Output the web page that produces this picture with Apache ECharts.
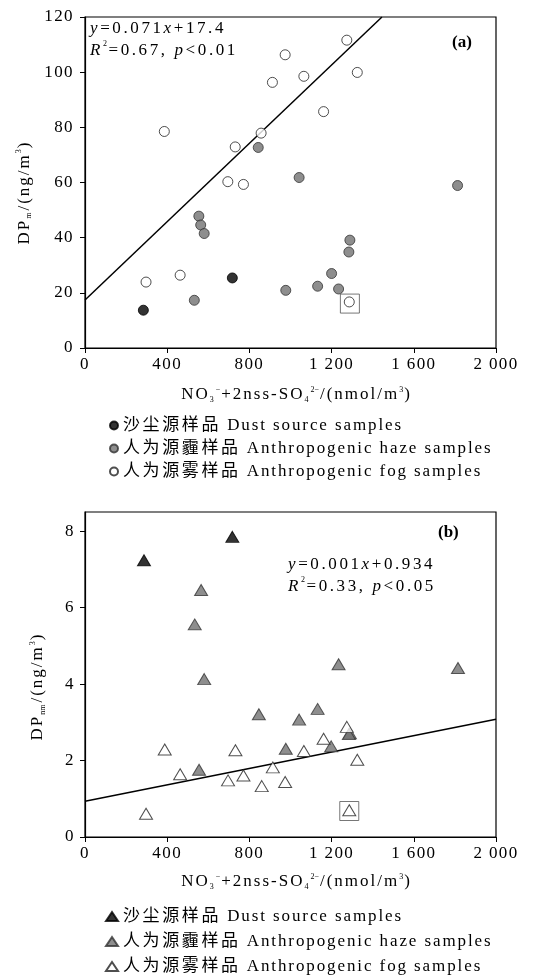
<!DOCTYPE html>
<html>
<head>
<meta charset="utf-8">
<script src="https://cdn.jsdelivr.net/npm/echarts@6/dist/echarts.min.js"></script>
<style>
  html, body { margin: 0; padding: 0; background: #fff; }
  #chart { width: 537px; height: 977px; }
</style>
</head>
<body>
<div id="chart"></div>
<script>
// panel (a): DPm vs NO3- + 2nss-SO4 2-
const dustA = [[284, 13.7], [717, 25.4]];
const hazeA = [[532, 17.3], [554, 47.8], [563, 44.6], [580, 41.5], [843, 72.7], [977, 20.9], [1042, 61.8],
  [1132, 22.4], [1200, 27.0], [1234, 21.4], [1289, 39.1], [1284, 34.8], [1813, 58.9]];
const fogA = [[297, 23.9], [386, 78.5], [463, 26.4], [695, 60.3], [731, 72.9], [771, 59.3], [857, 77.9],
  [912, 96.3], [974, 106.3], [1065, 98.5], [1161, 85.7], [1274, 111.6], [1325, 99.9], [1286, 16.7]];
const boxA = [[1289, 16.1]];
const fitA = [[0, 17.4], [1445, 120]];

// panel (b): DPnm
const dustB = [[287, 7.24], [717, 7.85]];
const hazeB = [[534, 5.56], [565, 6.46], [580, 4.13], [555, 1.76], [846, 3.21], [977, 2.31], [1042, 3.07],
  [1132, 3.35], [1198, 2.37], [1234, 4.52], [1289, 2.71], [1284, 2.69], [1815, 4.42]];
const fogB = [[297, 0.61], [388, 2.29], [463, 1.64], [696, 1.48], [732, 2.27], [771, 1.61], [860, 1.33],
  [914, 1.82], [974, 1.44], [1065, 2.25], [1161, 2.57], [1274, 2.88], [1325, 2.02], [1286, 0.70]];
const boxB = [[1286, 0.68]];
const fitB = [[0, 0.934], [2000, 3.08]];

const yTicksB = [0, 2, 4, 6, 8];
const legendLabels = {
  aDust: '沙尘源样品 Dust source samples',
  aHaze: '人为源霾样品 Anthropogenic haze samples',
  aFog: '人为源雾样品 Anthropogenic fog samples',
  bDust: '沙尘源样品 Dust source samples',
  bHaze: '人为源霾样品 Anthropogenic haze samples',
  bFog: '人为源雾样品 Anthropogenic fog samples'
};

const serif = "'Liberation Serif', 'Times New Roman', 'Noto Sans CJK SC', serif";
const fs = 17;

// the source figure is set with wide tracking, so every glyph gets its own token
const tr = (s, st) => Array.from(s).map(c => `{${st}|${c}}`).join('');
const trMixed = s => Array.from(s).map(c => `{${/[\u4e00-\u9fff]/.test(c) ? 'c' : 't'}|${c}}`).join('');

const nameRich = {
  n: { fontFamily: serif, fontSize: fs, color: '#000', lineHeight: 18, padding: [0, 2, 0, 0] },
  sub: { fontFamily: serif, fontSize: 8, color: '#000', verticalAlign: 'bottom', lineHeight: 8, padding: [0, 2, 0, 0] },
  sup: { fontFamily: serif, fontSize: 8, color: '#000', verticalAlign: 'top', lineHeight: 8, padding: [0, 1, 0, 0] }
};
const eqRich = {
  n: { fontFamily: serif, fontSize: fs, color: '#000', lineHeight: 22, padding: [0, 2.6, 0, 0] },
  i: { fontFamily: serif, fontSize: fs, color: '#000', fontStyle: 'italic', lineHeight: 22, padding: [0, 2.6, 0, 0] },
  sup: { fontFamily: serif, fontSize: 8, color: '#000', verticalAlign: 'top', lineHeight: 12, padding: [0, 1.5, 0, 0] }
};
const tickRich = {
  t: { fontFamily: serif, fontSize: fs, color: '#000', padding: [0, 1.4, 0, 0] }
};
const legendRich = {
  t: { fontFamily: serif, fontSize: fs, color: '#000', lineHeight: 17, padding: [0, 1.9, 0, 0] },
  c: { fontFamily: serif, fontSize: fs, color: '#000', lineHeight: 17, padding: [0, 2.6, 0, 0] }
};

const fmtX = v => tr(v >= 1000 ? String(v).replace(/(\d)(\d{3})$/, '$1 $2') : String(v), 't');
const fmtY = v => tr(String(v), 't');
const xName = tr('NO', 'n') + '{sub|3}{sup|−}' + tr('+2nss-SO', 'n') + '{sub|4}{sup|2−}' + tr('/(nmol/m', 'n') + '{sup|3}' + tr(')', 'n');
const yNameA = tr('DP', 'n') + '{sub|m}' + tr('/(ng/m', 'n') + '{sup|3}' + tr(')', 'n');
const yNameB = tr('DP', 'n') + '{sub|nm}' + tr('/(ng/m', 'n') + '{sup|3}' + tr(')', 'n');

function xAxisFor(gridIndex, gap) {
  return {
    gridIndex, type: 'value', min: 0, max: 2000, interval: 400,
    name: xName, nameLocation: 'middle', nameGap: gap,
    nameTextStyle: { rich: nameRich, padding: [0, 0, 0, 12] },
    axisLine: { lineStyle: { color: '#000', width: 1.2 } },
    axisTick: { length: 5, lineStyle: { color: '#000' } },
    axisLabel: { margin: 8, formatter: fmtX, rich: tickRich },
    splitLine: { show: false }
  };
}

const haze = { color: '#727272', borderColor: '#333', borderWidth: 1 };
const fog = { color: '#fff', borderColor: '#222', borderWidth: 1 };
const dust = { color: '#000', borderColor: '#000', borderWidth: 1 };

function pts(name, data, sym, size, style, xi) {
  return { name, type: 'scatter', xAxisIndex: xi, yAxisIndex: xi, data, symbol: sym, symbolSize: size, itemStyle: style, z: 3 };
}

const option = {
  animation: false,
  backgroundColor: '#fff',
  grid: [
    { left: 85, top: 17, width: 411, height: 331, show: true, borderColor: '#000', borderWidth: 1.2 },
    { left: 85, top: 512, width: 411, height: 325, show: true, borderColor: '#000', borderWidth: 1.2 }
  ],
  xAxis: [xAxisFor(0, 38), xAxisFor(1, 36)],
  yAxis: [
    {
      gridIndex: 0, type: 'value', min: 0, max: 120, interval: 20,
      name: yNameA, nameLocation: 'middle', nameGap: 47, nameRotate: 90,
      nameTextStyle: { rich: nameRich, padding: [0, 20, 0, 0] },
      axisLine: { lineStyle: { color: '#000', width: 1.2 } },
      axisTick: { length: 5, lineStyle: { color: '#000' } },
      axisLabel: { margin: 11, formatter: fmtY, rich: tickRich },
      splitLine: { show: false }
    },
    {
      gridIndex: 1, type: 'value', min: 0, max: 8.5,
      name: yNameB, nameLocation: 'middle', nameGap: 38, nameRotate: 90,
      nameTextStyle: { rich: nameRich, padding: [0, 24, 0, 0] },
      axisLine: { lineStyle: { color: '#000', width: 1.2 } },
      axisTick: { length: 5, lineStyle: { color: '#000' }, customValues: yTicksB },
      axisLabel: { margin: 10, formatter: fmtY, rich: tickRich, customValues: yTicksB },
      splitLine: { show: false }
    }
  ],
  legend: [
    {
      orient: 'vertical', left: 109, top: 417, padding: 0, itemWidth: 8, itemHeight: 8, itemGap: 6,
      data: ['aDust', 'aHaze', 'aFog'], selectedMode: false,
      formatter: n => trMixed(legendLabels[n]),
      textStyle: { rich: legendRich }
    },
    {
      orient: 'vertical', left: 105, top: 908, padding: 0, itemWidth: 12, itemHeight: 9, itemGap: 8,
      height: 70,
      data: ['bDust', 'bHaze', 'bFog'], selectedMode: false,
      formatter: n => trMixed(legendLabels[n]),
      textStyle: { rich: legendRich }
    }
  ],
  graphic: [
    { type: 'text', left: 90, top: 20, style: { rich: eqRich, text: '{i|y}' + tr('=0.071', 'n') + '{i|x}' + tr('+17.4', 'n') + '\n{i|R}{sup|2}' + tr('=0.67, ', 'n') + '{i|p}' + tr('<0.01', 'n') } },
    { type: 'text', left: 452, top: 34, style: { text: '(a)', fontFamily: serif, fontSize: 17, fontWeight: 'bold', fill: '#000' } },
    { type: 'text', left: 288, top: 556, style: { rich: eqRich, text: '{i|y}' + tr('=0.001', 'n') + '{i|x}' + tr('+0.934', 'n') + '\n{i|R}{sup|2}' + tr('=0.33, ', 'n') + '{i|p}' + tr('<0.05', 'n') } },
    { type: 'text', left: 438, top: 524, style: { text: '(b)', fontFamily: serif, fontSize: 17, fontWeight: 'bold', fill: '#000' } }
  ],
  series: [
    { type: 'line', xAxisIndex: 0, yAxisIndex: 0, data: fitA, symbol: 'none', lineStyle: { color: '#000', width: 1.5 }, z: 2 },
    { type: 'scatter', xAxisIndex: 0, yAxisIndex: 0, data: boxA, symbol: 'rect', symbolSize: 19,
      itemStyle: { color: 'rgba(0,0,0,0)', borderColor: '#555', borderWidth: 1 }, z: 1 },
    pts('aHaze', hazeA, 'circle', 10, haze, 0),
    pts('aFog', fogA, 'circle', 10, fog, 0),
    pts('aDust', dustA, 'circle', 10, dust, 0),

    { type: 'line', xAxisIndex: 1, yAxisIndex: 1, data: fitB, symbol: 'none', lineStyle: { color: '#000', width: 1.5 }, z: 2 },
    { type: 'scatter', xAxisIndex: 1, yAxisIndex: 1, data: boxB, symbol: 'rect', symbolSize: 19,
      itemStyle: { color: 'rgba(0,0,0,0)', borderColor: '#555', borderWidth: 1 }, z: 1 },
    pts('bHaze', hazeB, 'triangle', [13, 11], haze, 1),
    pts('bFog', fogB, 'triangle', [13, 11], fog, 1),
    pts('bDust', dustB, 'triangle', [13, 11], dust, 1)
  ]
};

const chart = echarts.init(document.getElementById('chart'), null, { renderer: 'canvas' });
chart.setOption(option);
</script>
</body>
</html>
